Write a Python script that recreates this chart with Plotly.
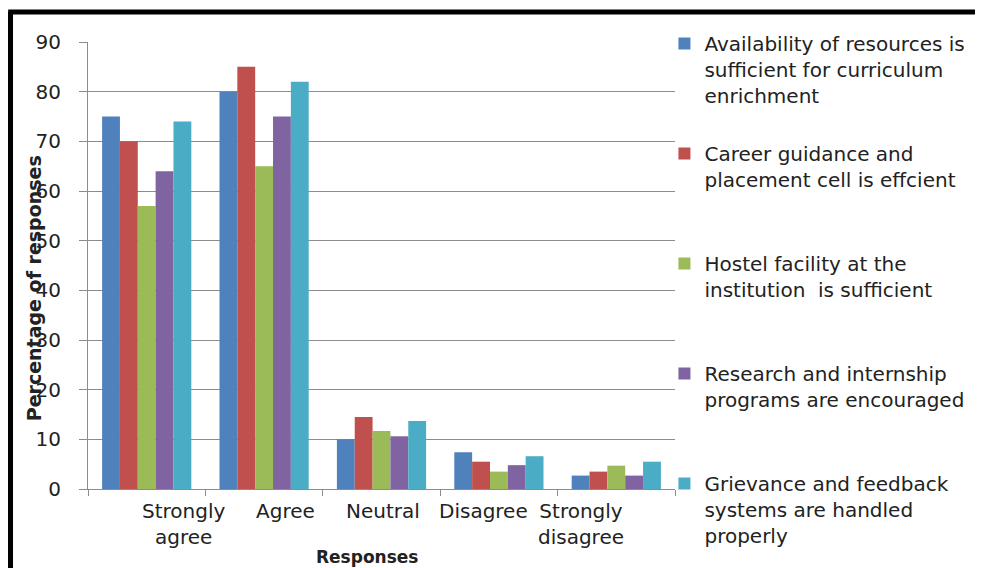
import plotly.graph_objects as go

categories = ["Strongly agree", "Agree", "Neutral", "Disagree", "Strongly disagree"]
category_labels = ["Strongly<br>agree", "Agree", "Neutral", "Disagree", "Strongly<br>disagree"]

series_names = [
    "Availability of resources is<br>sufficient for curriculum<br>enrichment",
    "Career guidance and<br>placement cell is effcient<br> ",
    "Hostel facility at the<br>institution  is sufficient<br> ",
    "Research and internship<br>programs are encouraged<br> ",
    "Grievance and feedback<br>systems are handled<br>properly",
]

resources = [75, 80, 10, 7.4, 2.7]
career = [70, 85, 14.5, 5.5, 3.5]
hostel = [57, 65, 11.7, 3.5, 4.7]
research = [64, 75, 10.6, 4.8, 2.7]
grievance = [74, 82, 13.7, 6.6, 5.5]

y_ticks = [0, 10, 20, 30, 40, 50, 60, 70, 80, 90]

colors = ["#4F81BD", "#C0504D", "#9BBB59", "#8064A2", "#4BACC6"]
label_shift = [37, 21, 1, -15, -35]
font_family = "'DejaVu Sans', sans-serif"
text_color = "#222222"

fig = go.Figure()
for name, values, color in zip(series_names,
                               [resources, career, hostel, research, grievance],
                               colors):
    fig.add_trace(go.Bar(x=categories, y=values, name=name,
                         marker=dict(color=color, line=dict(width=0)),
                         legendgroup=name))

# category labels placed like the original (slightly offset from the bands)
for cat, lab, dx in zip(categories, category_labels, label_shift):
    fig.add_annotation(x=cat, y=0, xref="x", yref="paper", text=lab,
                       showarrow=False, xshift=dx, yanchor="top", yshift=-8,
                       font=dict(size=20, color=text_color, family=font_family))

fig.add_annotation(x=0.475, y=0, xref="paper", yref="paper", text="<b>Responses</b>",
                   showarrow=False, yanchor="middle", yshift=-68,
                   font=dict(size=17, color=text_color, family=font_family))
fig.add_annotation(x=-0.093, y=0.45, xref="paper", yref="paper", xanchor="center",
                   text="<b>Percentage of responses</b>", textangle=-90,
                   showarrow=False, font=dict(size=19, color=text_color, family=font_family))

# outer frame of the pasted chart
fig.add_shape(type="line", xref="paper", yref="paper", x0=-0.132, x1=-0.132,
              y0=1.067, y1=-0.25, line=dict(color="black", width=5))
fig.add_shape(type="line", xref="paper", yref="paper", x0=-0.136, x1=1.53,
              y0=1.067, y1=1.067, line=dict(color="black", width=5))
fig.add_shape(type="line", xref="paper", yref="paper", x0=1.52, x1=1.52,
              y0=1.062, y1=-0.25, line=dict(color="#9a9a9a", width=1))

fig.update_layout(
    width=975, height=560,
    margin=dict(l=80, r=308, t=34, b=79),
    paper_bgcolor="white", plot_bgcolor="white",
    barmode="group", bargap=0.24, bargroupgap=0,
    font=dict(family=font_family, color=text_color),
    showlegend=True,
    legend=dict(x=0.982, y=1.04, xanchor="left", yanchor="top",
                font=dict(size=20, color=text_color, family=font_family),
                valign="top", tracegroupgap=29, traceorder="grouped",
                maxheight=620, bgcolor="rgba(0,0,0,0)"),
)

fig.update_xaxes(showticklabels=False, showline=True, linecolor="#8c8c8c",
                 ticks="outside", tickson="boundaries", ticklen=6,
                 tickcolor="#8c8c8c", showgrid=False)
fig.update_yaxes(range=[0, 90], tickvals=y_ticks, showline=True, linecolor="#8c8c8c",
                 ticks="outside", ticklen=8, tickcolor="#8c8c8c", ticklabelstandoff=14,
                 showgrid=True, gridcolor="#8c8c8c", gridwidth=1, zeroline=False,
                 tickfont=dict(size=20, color=text_color, family=font_family))

fig.write_html("out.html")
